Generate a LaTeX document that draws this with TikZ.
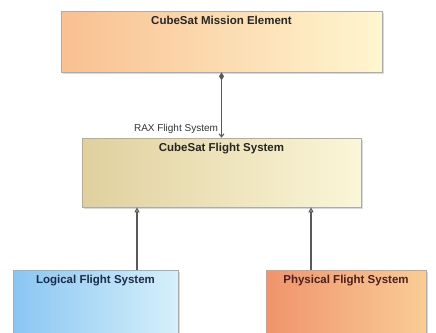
\documentclass[tikz,border=0pt]{standalone}
\usepackage{fontspec}
\setmainfont{Liberation Sans}
\usetikzlibrary{arrows.meta,shadows}
\definecolor{missionL}{RGB}{249,192,145}
\definecolor{missionR}{RGB}{255,246,208}
\definecolor{flightL}{RGB}{224,208,158}
\definecolor{flightR}{RGB}{251,246,216}
\definecolor{logicL}{RGB}{138,198,242}
\definecolor{logicR}{RGB}{214,240,251}
\definecolor{physL}{RGB}{240,148,108}
\definecolor{physR}{RGB}{250,204,150}
\definecolor{linegray}{RGB}{90,90,90}
\tikzset{
  blk/.style={rectangle,draw=gray!65,line width=0.7pt,inner sep=0pt,shading=axis,
    drop shadow={shadow xshift=1.5pt,shadow yshift=-1.5pt,opacity=0.3}},
  ttl/.style={font=\bfseries\fontsize{11.5}{13}\selectfont,inner sep=0pt,anchor=north,yshift=-5pt},
  comp/.style={draw=linegray,line width=1.1pt,
    {Diamond[length=8pt,width=5pt]}-{Straight Barb[length=3pt,width=5pt]}},
  gen/.style={draw=linegray,line width=1.1pt,-{Triangle[open,length=5pt,width=5pt,fill=white]}}
}
\begin{document}
\begin{tikzpicture}[x=1pt,y=-1pt]
\useasboundingbox (0,0) rectangle (436,332);
\clip (0,0) rectangle (436,332);
%top
\node[blk,left color=missionL,right color=missionR,minimum width=321pt,minimum height=61pt,
  label={[ttl,text=black!85]north:CubeSat Mission Element}] (mission) at (221.5,41.5) {};
%middle
\node[blk,left color=flightL,right color=flightR,minimum width=279pt,minimum height=69pt,
  label={[ttl,text=black!85]north:CubeSat Flight System}] (flight) at (221.5,172.5) {};
%bottom
\node[blk,left color=logicL,right color=logicR,minimum width=165pt,minimum height=75pt,
  label={[ttl,text={rgb,255:red,28;green,43;blue,74}]north:Logical Flight System}] (logical) at (95.5,307.5) {};
\node[blk,left color=physL,right color=physR,minimum width=160pt,minimum height=75pt,
  label={[ttl,text={rgb,255:red,74;green,32;blue,32}]north:Physical Flight System}] (physical) at (346,307.5) {};
%connectors
\draw[comp] (mission.south) -- (flight.north)
  node[pos=1,anchor=base east,xshift=-3pt,yshift=6pt,inner sep=0pt,
  font=\fontsize{10}{12}\selectfont,text=black!80] (rax) {RAX Flight System};
\draw[gen] ([xshift=41.5pt]logical.north) -- ([xshift=41.5pt]logical.north |- flight.south);
\draw[gen] ([xshift=-35pt]physical.north) -- ([xshift=-35pt]physical.north |- flight.south);
\end{tikzpicture}
\end{document}
